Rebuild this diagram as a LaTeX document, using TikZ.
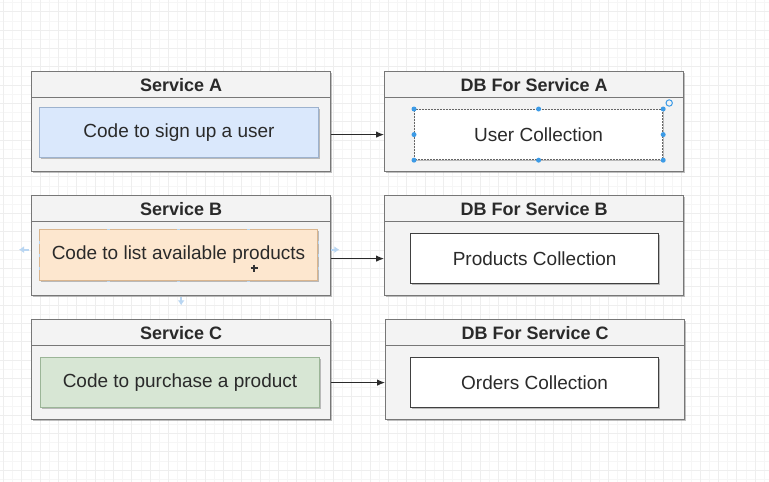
\documentclass[tikz,border=0pt]{standalone}
\usepackage{fontspec}
\setmainfont{Liberation Sans}
\usetikzlibrary{arrows.meta,shadows,calc}

\definecolor{txt}{HTML}{2A2A2A}
\definecolor{boxline}{HTML}{777777}
\definecolor{boxfill}{HTML}{F3F3F3}
\definecolor{gridminor}{HTML}{F6F6F6}
\definecolor{gridmajor}{HTML}{EEEEEE}
\definecolor{bluefill}{HTML}{DAE8FC}
\definecolor{blueline}{HTML}{9DB2CE}
\definecolor{orangefill}{HTML}{FDE7CF}
\definecolor{orangeline}{HTML}{D9B58E}
\definecolor{greenfill}{HTML}{D7E6D4}
\definecolor{greenline}{HTML}{9BB597}
\definecolor{handle}{HTML}{3D9BE6}
\definecolor{hover}{HTML}{B9D6F2}

\tikzset{
  softshadow/.style={drop shadow={shadow xshift=1.6pt, shadow yshift=-1.8pt, opacity=0.45, fill=black!55}},
  container/.style={draw=boxline, fill=boxfill, line width=1.3pt, softshadow,
    minimum width=299pt, minimum height=100pt, anchor=north west, inner sep=0pt},
  header/.style={draw=boxline, fill=boxfill, line width=1.3pt,
    minimum width=299pt, minimum height=26pt, anchor=north west, inner sep=0pt,
    text=txt, font=\fontsize{18}{21}\selectfont\bfseries},
  codebox/.style={line width=1pt, softshadow, minimum width=279pt, minimum height=50pt,
    anchor=north west, inner sep=0pt, text=txt, font=\fontsize{19}{22}\selectfont},
  collbox/.style={draw=black!75, fill=white, line width=1.2pt, softshadow,
    minimum width=248pt, minimum height=50pt, anchor=north west, inner sep=0pt,
    text=txt, font=\fontsize{19}{22}\selectfont},
  link/.style={draw=txt, line width=1pt, -{Latex[length=8pt,width=6.5pt]}},
  grip/.style={circle, fill=handle, inner sep=0pt, minimum size=5pt},
  hoverarrow/.style={draw=hover, line width=1.8pt, -{Latex[length=5pt,width=7pt]}},
}

\begin{document}
\begin{tikzpicture}[x=1pt,y=-1pt]
  % canvas and editor grid
  \fill[white] (0,0) rectangle (769,482);
  \useasboundingbox (0,0) rectangle (769,482);
  \foreach \i in {0,...,84} {
    \draw[gridminor, line width=0.6pt] ({3.3+\i*9.167},0) -- ++(0,482);
  }
  \foreach \j in {0,...,53} {
    \draw[gridminor, line width=0.6pt] (0,{2.5+\j*9.167}) -- ++(769,0);
  }
  \foreach \i in {0,...,42} {
    \draw[gridmajor, line width=0.7pt] ({3.3+\i*18.333},0) -- ++(0,482);
  }
  \foreach \j in {0,...,26} {
    \draw[gridmajor, line width=0.7pt] (0,{11.7+\j*18.333}) -- ++(769,0);
  }

  % ---- Service A / DB A ----
  \node[container] (svcA) at (31,71) {};
  \node[header] (svcAh) at (31,71) {Service A};
  \node[codebox, draw=blueline, fill=bluefill] (codeA) at (39,107) {Code to sign up a user};

  \node[container] (dbA) at (384,71) {};
  \node[header] (dbAh) at (384,71) {DB For Service A};
  \node[collbox, draw=black!60, dashed, dash pattern=on 2pt off 1pt] (collA) at (414,109) {User Collection};
  \foreach \a in {north west,north,north east,east,south east,south,south west,west}
    \node[grip] at (collA.\a) {};
  \draw[handle, line width=1pt] ($(collA.north east)+(6,-6)$) circle (3.2pt);

  % ---- Service B / DB B ----
  \node[container] (svcB) at (31,195) {};
  \node[header] (svcBh) at (31,195) {Service B};
  \node[codebox, draw=orangeline, fill=orangefill, minimum width=278pt, minimum height=51pt]
    (codeB) at (39,229) {Code to list available products};
  % connection points on the hovered shape
  \foreach \p in {0.25,0.5,0.75} {
    \draw[hover, line width=0.8pt] ($(codeB.north west)!\p!(codeB.north east)+(-1.5,0)$) -- ++(3,0);
    \draw[hover, line width=0.8pt] ($(codeB.south west)!\p!(codeB.south east)+(-1.5,0)$) -- ++(3,0);
    \draw[hover, line width=0.8pt] ($(codeB.north west)!\p!(codeB.south west)+(0,-1.5)$) -- ++(0,3);
    \draw[hover, line width=0.8pt] ($(codeB.north east)!\p!(codeB.south east)+(0,-1.5)$) -- ++(0,3);
  }
  \draw[hoverarrow] ($(svcB.west)+(-2,4)$) -- ++(-10,0);
  \draw[hoverarrow] ($(svcB.east)+(0,4)$) -- ++(8,0);
  \draw[hoverarrow] ($(svcB.south)+(0,1)$) -- ++(0,8);
  % mouse cursor
  \draw[black!80, line width=1.3pt] (254,264.5) -- (254,271.5) (250.5,268) -- (257.5,268);

  \node[container] (dbB) at (384,195) {};
  \node[header] (dbBh) at (384,195) {DB For Service B};
  \node[collbox] (collB) at (410,233) {Products Collection};

  % ---- Service C / DB C ----
  \node[container] (svcC) at (31,319) {};
  \node[header] (svcCh) at (31,319) {Service C};
  \node[codebox, draw=greenline, fill=greenfill] (codeC) at (40,357) {Code to purchase a product};

  \node[container] (dbC) at (385,319) {};
  \node[header] (dbCh) at (385,319) {DB For Service C};
  \node[collbox] (collC) at (410,357) {Orders Collection};

  % ---- links ----
  \draw[link] (collA.west -| svcA.east) -- (collA.west -| dbA.west);
  \draw[link] (collB.west -| svcB.east) -- (collB.west -| dbB.west);
  \draw[link] (collC.west -| svcC.east) -- (collC.west -| dbC.west);
\end{tikzpicture}
\end{document}
